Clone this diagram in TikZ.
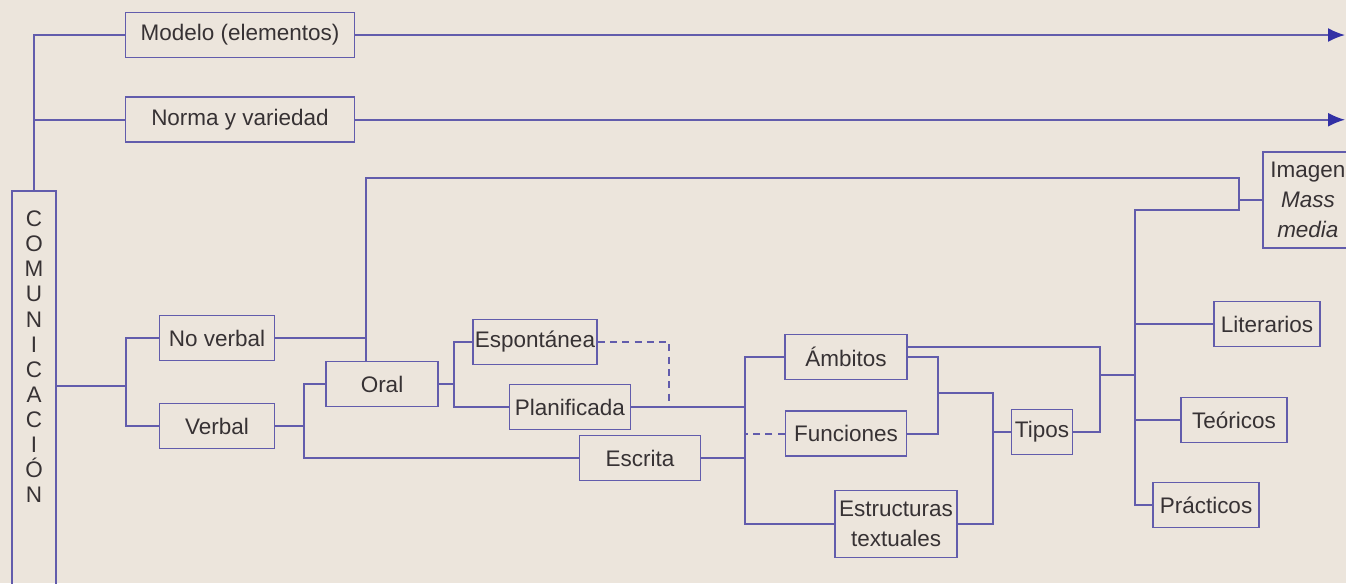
\documentclass[tikz,border=0pt]{standalone}
\usepackage{fontspec}
\setmainfont{Liberation Sans}
\usepackage{tikz}
\usetikzlibrary{arrows.meta,positioning}
\definecolor{linec}{RGB}{98,92,172}
\definecolor{bgc}{RGB}{236,229,220}
\definecolor{txtc}{RGB}{55,50,52}
\definecolor{tipc}{RGB}{50,48,165}

\begin{document}
\begin{tikzpicture}[x=0.02cm, y=-0.02cm, node distance=0.6cm,
  box/.style={draw=linec, line width=1pt, text=txtc, minimum height=0.9cm,
    inner xsep=1pt, inner ysep=2pt, align=center,
    font=\fontsize{12.8}{17}\selectfont},
  link/.style={draw=linec, line width=1pt},
  arr/.style={link, -{Latex[length=0.34cm,width=0.28cm,color=tipc]}}]
\fill[bgc] (0,0) rectangle (1346,583);
\useasboundingbox (0,0) rectangle (1346,583);

\node (C) [box, anchor=north, minimum width=0.88cm, inner ysep=0.4cm,
  font=\fontsize{12.8}{14.3}\selectfont] at (34,190)
  {\parbox[c][8cm][t]{0.6cm}{\centering C\\O\\M\\U\\N\\I\\C\\A\\C\\I\\Ó\\N}};
\node (M) [box, minimum width=4.58cm] at (240,35) {Modelo (elementos)};
\node (N) [box, minimum width=4.58cm, below=0.76cm of M] {Norma y variedad};
\node (NV) [box, minimum width=2.3cm] at (217,338) {No verbal};
\node (V) [box, minimum width=2.3cm] at (217,426) {Verbal};
\node (O) [box, minimum width=2.24cm] at (382,384) {Oral};
\node (E) [box, minimum width=2.4cm] at (535,342) {Espontánea};
\node (P) [box, minimum width=2.42cm] at (570,407) {Planificada};
\node (W) [box, minimum width=2.42cm] at (640,458) {Escrita};
\node (A) [box, minimum width=2.44cm] at (846,357) {Ámbitos};
\node (F) [box, minimum width=2.42cm, below=of A] {Funciones};
\node (S) [box, minimum width=2.44cm, minimum height=1.34cm] at (896,524) {Estructuras\\textuales};
\node (T) [box, minimum width=1.22cm] at (1042,432) {Tipos};
\node (I) [box, anchor=west, minimum width=1.8cm, minimum height=1.92cm] at (1262,200)
  {Imagen\\\textit{Mass}\\\textit{media}};
\node (L) [box, minimum width=2.12cm] at (1267,324) {Literarios};
\node (Te) [box, minimum width=2.12cm] at (1234,420) {Teóricos};
\node (Pr) [box, minimum width=2.12cm] at (1206,505) {Prácticos};

\coordinate (tip) at (1345,0);
\coordinate (b1) at (126,386);
\coordinate (b2) at (304,426);
\coordinate (b3) at (454,384);
\coordinate (b4) at (745,407);
\coordinate (b5) at (938,393);
\coordinate (b6) at (993,432);
\coordinate (b7) at (1100,375);
\coordinate (up) at (366,178);
\coordinate (k) at (1239,210);
\coordinate (rt) at (1135,210);
\coordinate (d) at (669,407);

\draw[link] (M.west) -| (C.north);
\draw[link] (N.west) -- (N.west -| C.north);
\draw[arr] (M.east) -- (M.east -| tip);
\draw[arr] (N.east) -- (N.east -| tip);

\draw[link] (C.east |- b1) -- (b1);
\draw[link] (NV.west) -| (b1) |- (V.west);
\draw[link] (V.east) -- (V.east -| b2);
\draw[link] (O.west) -| (b2) |- (W.west);

\draw[link] (NV.east) -| (up);
\draw[link] (O.north -| up) -- (up) -| (k) -- (rt) |- (Pr.west);
\draw[link] (I.west) -- (I.west -| k);
\draw[link] (L.west) -- (L.west -| rt);
\draw[link] (Te.west) -- (Te.west -| rt);

\draw[link] (O.east) -- (b3);
\draw[link] (E.west) -| (b3) |- (P.west);
\draw[link, dash pattern=on 4pt off 3pt] (E.east) -| (d);

\draw[link] (P.east) -- (b4);
\draw[link] (A.west) -| (b4) |- (S.west);
\draw[link] (W.east) -- (W.east -| b4);
\draw[link, dash pattern=on 4pt off 3pt] (F.west) -- (F.west -| b4);

\draw[link] (A.east) -| (b5) |- (F.east);
\draw[link] (b5) -| (b6) |- (S.east);
\draw[link] (T.west) -- (b6);
\draw[link] ([yshift=0.2cm]A.east) -| (b7) |- (T.east);
\draw[link] (b7) -- (b7 -| rt);
\end{tikzpicture}
\end{document}
